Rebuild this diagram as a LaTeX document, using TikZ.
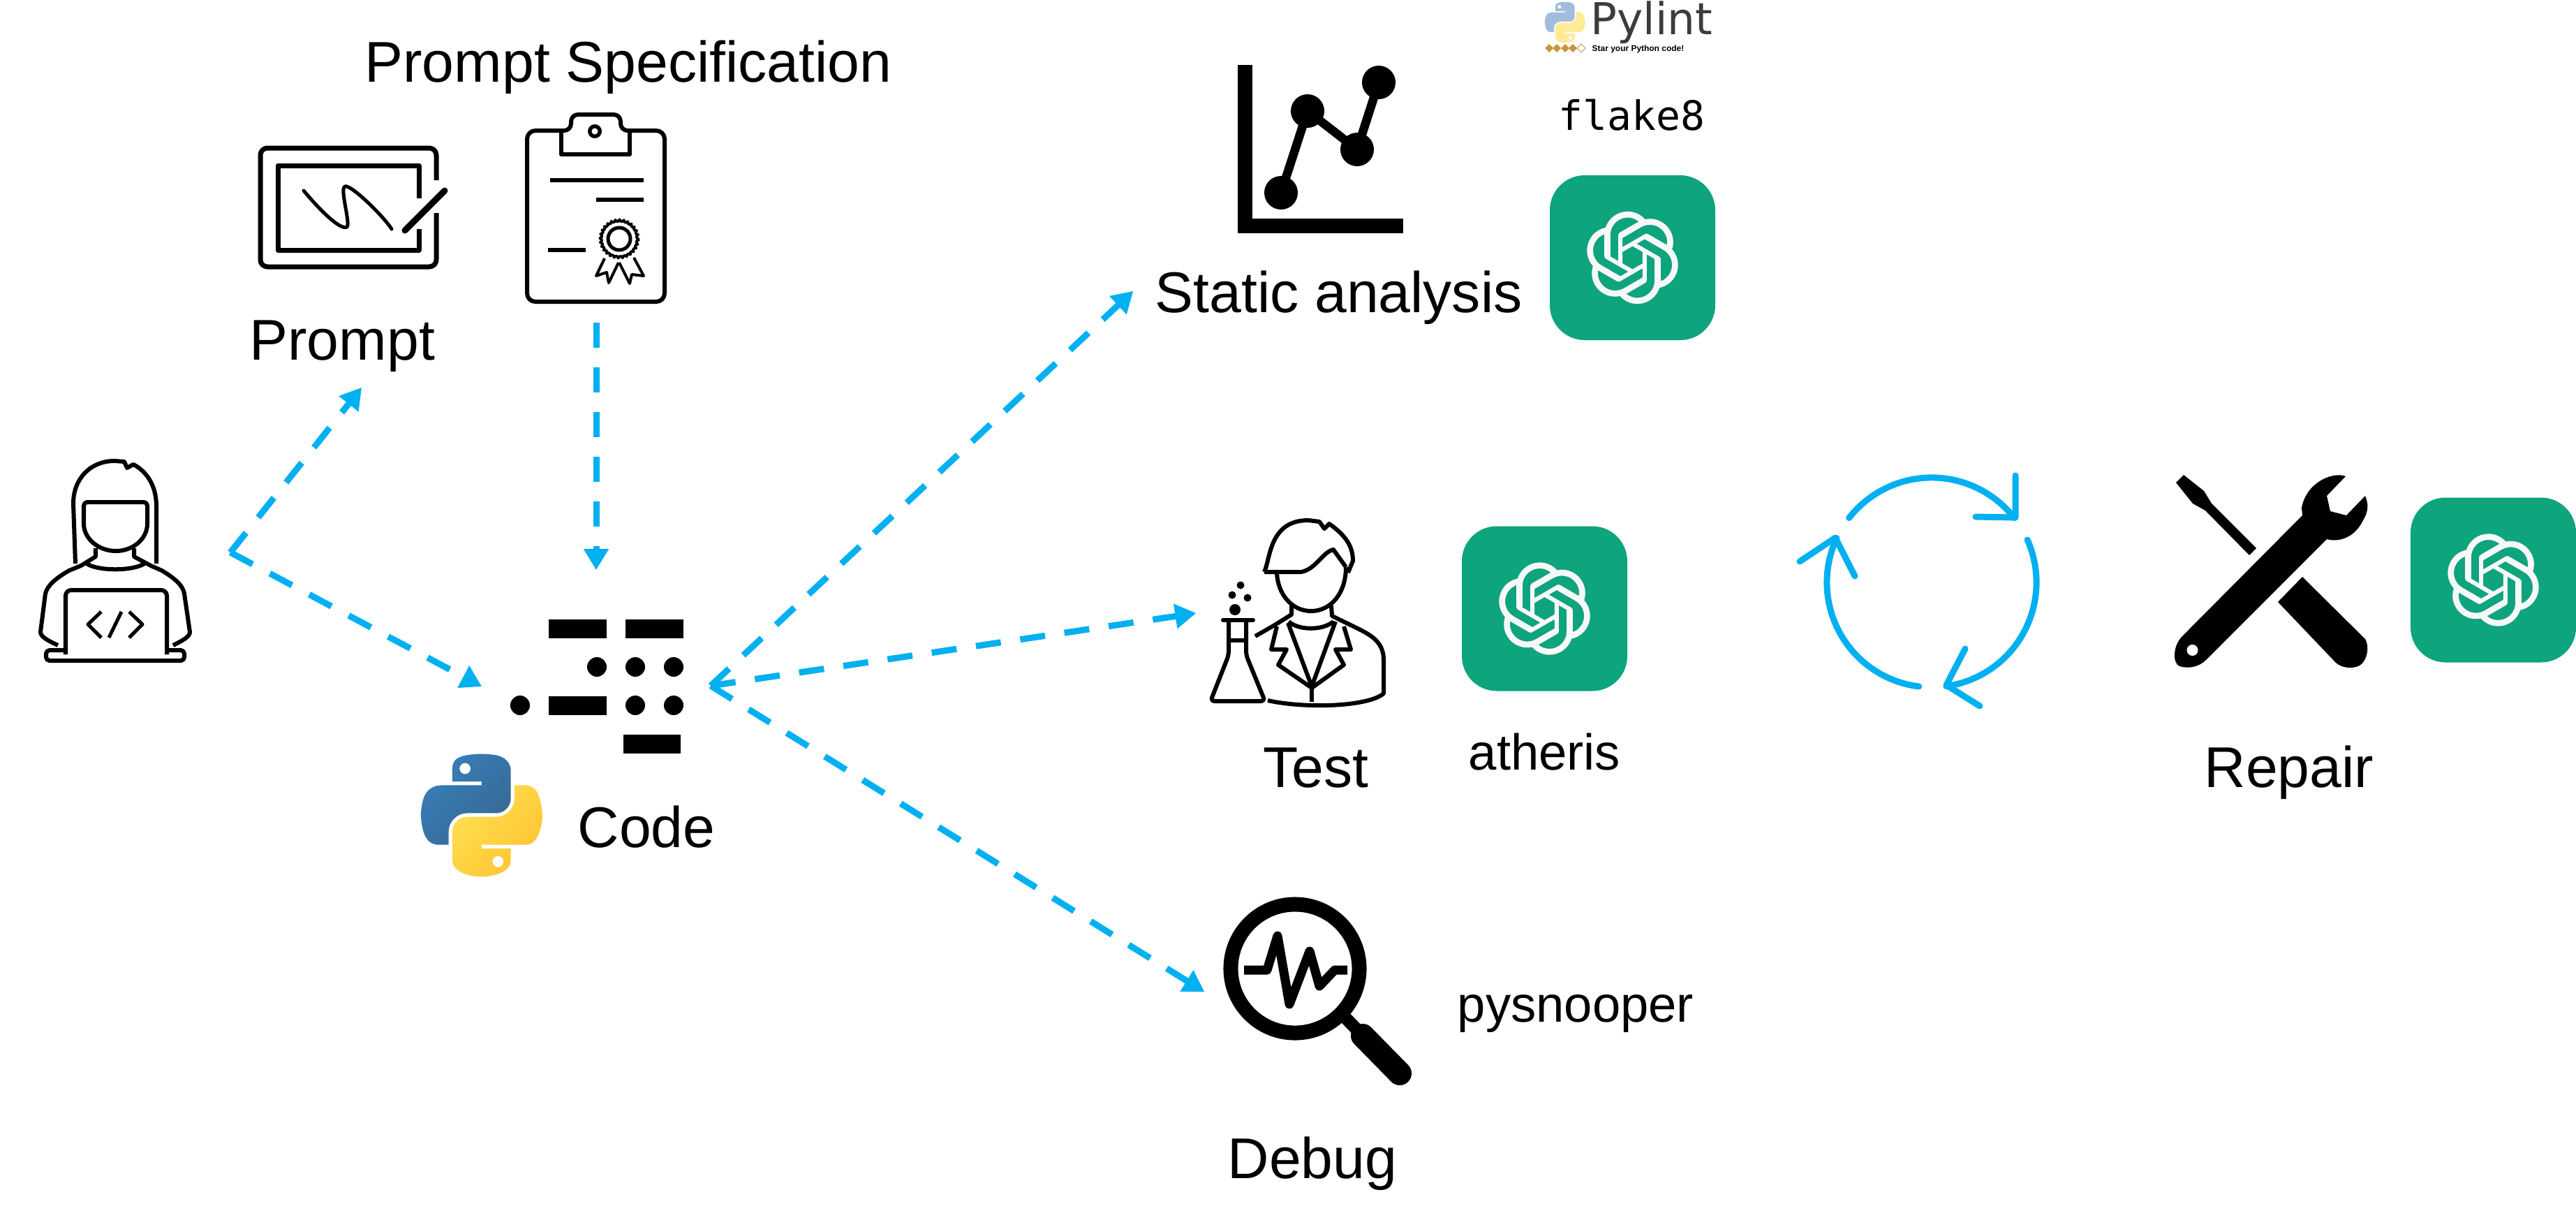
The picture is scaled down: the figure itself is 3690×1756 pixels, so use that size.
\documentclass[tikz,border=0pt]{standalone}
\usepackage{fontspec}
\setmainfont{Liberation Sans}
\newfontfamily\flakefont{DejaVu Sans Mono}
\newfontfamily\pylintfont{DejaVu Sans}
\usetikzlibrary{calc,positioning,arrows.meta,svg.path,decorations.pathmorphing}
\definecolor{flowblue}{HTML}{00B0F0}
\definecolor{gptgreen}{HTML}{0EA47D}
\definecolor{gptwhite}{HTML}{F8F8F8}
\definecolor{pyblueA}{HTML}{387EB8}
\definecolor{pyblueB}{HTML}{366994}
\definecolor{pyyellowA}{HTML}{FFE052}
\definecolor{pyyellowB}{HTML}{FFC331}
\definecolor{lintblue}{HTML}{A0BEDC}
\definecolor{lintyellow}{HTML}{FFEB96}
\definecolor{lintgold}{HTML}{C8963C}
\definecolor{lintgray}{HTML}{3C3C3C}
\tikzset{
	lbl/.style={inner sep=0pt, anchor=base west, font=\fontsize{23.4}{28}\selectfont},
	toollbl/.style={inner sep=0pt, anchor=base west, font=\fontsize{20.6}{24}\selectfont},
	dasharrow/.style={flowblue, line width=0.09cm, dash pattern=on 0.36cm off 0.28cm, -{Triangle[width=0.34cm,length=0.3cm]}},
	cycarrow/.style={flowblue, line width=0.09cm, line cap=round, line join=round},
	icon/.style={black, line width=0.06cm, line join=round},
	pics/gptbadge/.style={code={
		\fill[gptgreen, rounded corners=0.5cm] (-118.5,-118) rectangle (118.5,118);
		\begin{scope}[scale=0.94, yscale=-1, shift={(-20.4pt,-20.5pt)}]
		\fill[gptwhite] svg {M37.5324 16.8707 C37.9808 15.5241 38.1363 14.0974 37.9886 12.6859 C37.8409 11.2744 37.3934 9.91076 36.676 8.68622 C35.6126 6.83404 33.9882 5.3676 32.0373 4.4985 C30.0864 3.62941 27.9098 3.40259 25.8215 3.85078 C24.8796 2.7893 23.7219 1.94125 22.4257 1.36341 C21.1295 0.785575 19.7249 0.491269 18.3058 0.500197 C16.1708 0.495044 14.0893 1.16803 12.3614 2.42214 C10.6335 3.67624 9.34853 5.44666 8.6917 7.47815 C7.30085 7.76286 5.98686 8.3414 4.8377 9.17505 C3.68854 10.0087 2.73073 11.0782 2.02839 12.312 C0.956464 14.1591 0.498905 16.2988 0.721698 18.4228 C0.944492 20.5467 1.83612 22.5449 3.268 24.1293 C2.81966 25.4759 2.66413 26.9026 2.81182 28.3141 C2.95951 29.7256 3.40701 31.0892 4.12437 32.3138 C5.18791 34.1659 6.8123 35.6322 8.76321 36.5013 C10.7141 37.3704 12.8907 37.5973 14.9789 37.1492 C15.9208 38.2107 17.0786 39.0587 18.3747 39.6366 C19.6709 40.2144 21.0755 40.5087 22.4946 40.4998 C24.6307 40.5054 26.7133 39.8321 28.4418 38.5772 C30.1704 37.3223 31.4556 35.5506 32.1119 33.5179 C33.5027 33.2332 34.8167 32.6547 35.9659 31.821 C37.115 30.9874 38.0728 29.9178 38.7752 28.684 C39.8458 26.8371 40.3023 24.6979 40.0789 22.5748 C39.8556 20.4517 38.9639 18.4544 37.5324 16.8707 Z M22.4978 37.8849 C20.7443 37.8874 19.0459 37.2733 17.6994 36.1501 C17.7601 36.117 17.8666 36.0586 17.936 36.0161 L25.9004 31.4156 C26.1003 31.3019 26.2663 31.137 26.3813 30.9378 C26.4964 30.7386 26.5563 30.5124 26.5549 30.2825 V19.0542 L29.9213 20.998 C29.9389 21.0068 29.9541 21.0198 29.9656 21.0359 C29.977 21.052 29.9842 21.0707 29.9867 21.0902 V30.3889 C29.9842 32.375 29.1946 34.2791 27.7909 35.6841 C26.3872 37.0892 24.4838 37.8806 22.4978 37.8849 Z M6.39227 31.0064 C5.51397 29.4888 5.19742 27.7107 5.49804 25.9832 C5.55718 26.0187 5.66048 26.0818 5.73461 26.1244 L13.699 30.7248 C13.8975 30.8408 14.1233 30.902 14.3532 30.902 C14.583 30.902 14.8088 30.8408 15.0073 30.7248 L24.731 25.1103 V28.9979 C24.7321 29.0177 24.7283 29.0376 24.7199 29.0556 C24.7115 29.0736 24.6988 29.0893 24.6829 29.1012 L16.6317 33.7497 C14.9096 34.7416 12.8643 35.0097 10.9447 34.4954 C9.02506 33.9811 7.38785 32.7263 6.39227 31.0064 Z M4.29707 13.6194 C5.17156 12.0998 6.55279 10.9364 8.19885 10.3327 C8.19885 10.4013 8.19491 10.5228 8.19491 10.6071 V19.808 C8.19351 20.0378 8.25334 20.2638 8.36823 20.4629 C8.48312 20.6619 8.64893 20.8267 8.84863 20.9404 L18.5723 26.5542 L15.206 28.4979 C15.1894 28.5089 15.1703 28.5155 15.1505 28.5173 C15.1307 28.5191 15.1107 28.516 15.0924 28.5082 L7.04046 23.8557 C5.32135 22.8601 4.06716 21.2235 3.55289 19.3046 C3.03862 17.3858 3.30624 15.3413 4.29707 13.6194 Z M31.955 20.0556 L22.2312 14.4411 L25.5976 12.4981 C25.6142 12.4872 25.6333 12.4805 25.6531 12.4787 C25.6729 12.4769 25.6928 12.4801 25.7111 12.4879 L33.7631 17.1364 C34.9967 17.849 36.0017 18.8982 36.6606 20.1613 C37.3194 21.4244 37.6047 22.849 37.4832 24.2684 C37.3617 25.6878 36.8382 27.0432 35.9743 28.1759 C35.1103 29.3086 33.9415 30.1717 32.6047 30.6641 C32.6047 30.5947 32.6047 30.4733 32.6047 30.3889 V21.188 C32.6066 20.9586 32.5474 20.7328 32.4332 20.5338 C32.319 20.3348 32.154 20.1698 31.955 20.0556 Z M35.3055 15.0128 C35.2464 14.9765 35.1431 14.9142 35.069 14.8717 L27.1045 10.2712 C26.906 10.1554 26.6803 10.0943 26.4504 10.0943 C26.2206 10.0943 25.9948 10.1554 25.7963 10.2712 L16.0726 15.8858 V11.9982 C16.0715 11.9783 16.0753 11.9585 16.0837 11.9405 C16.0921 11.9225 16.1048 11.9068 16.1207 11.8949 L24.1719 7.25025 C25.4053 6.53903 26.8158 6.19376 28.2383 6.25482 C29.6608 6.31589 31.0364 6.78077 32.2044 7.59508 C33.3723 8.40939 34.2842 9.53945 34.8334 10.8531 C35.3826 12.1667 35.5464 13.6095 35.3055 15.0128 Z M14.2424 21.9419 L10.8752 19.9981 C10.8576 19.9893 10.8423 19.9763 10.8309 19.9602 C10.8195 19.9441 10.8122 19.9254 10.8098 19.9058 V10.6071 C10.8107 9.18295 11.2173 7.78848 11.9819 6.58696 C12.7466 5.38544 13.8377 4.42659 15.1275 3.82264 C16.4173 3.21869 17.8524 2.99464 19.2649 3.1767 C20.6775 3.35876 22.0089 3.93941 23.1034 4.85067 C23.0427 4.88379 22.937 4.94215 22.8668 4.98473 L14.9024 9.58517 C14.7025 9.69878 14.5366 9.86356 14.4215 10.0626 C14.3065 10.2616 14.2466 10.4877 14.2479 10.7175 L14.2424 21.9419 Z M16.071 17.9991 L20.4018 15.4978 L24.7325 17.9975 V22.9985 L20.4018 25.4983 L16.071 22.9985 V17.9991 Z};
		\end{scope}
	}},
	pics/pylogo/.style n args={4}{code={
		\begin{scope}[yscale=-1, shift={(-55pt,-55.2pt)}]
		\shade[top color=#1, bottom color=#2, shading angle=45, even odd rule] svg {M 54.918785 0.001 C 50.335132 0.02221727 45.957846 0.41313697 42.106285 1.0946693 C 30.760069 3.0991731 28.700036 7.2947714 28.700035 15.032169 V 25.250919 H 55.512535 V 28.657169 H 28.700035 H 18.637535 C 10.845076 28.657169 4.021776 33.340886 1.887535 42.250919 C -0.574285 52.463885 -0.68348 58.836942 1.887535 69.500919 C 3.793463 77.438771 8.345078 83.094667 16.137535 83.094669 H 25.356285 V 70.844669 C 25.356285 61.994767 33.013429 54.188421 42.106285 54.188419 H 68.887535 C 76.342486 54.188419 82.293788 48.050255 82.293785 40.563419 V 15.032169 C 82.293785 7.76583 76.163805 2.307392 68.887535 1.094669 C 64.281548 0.327944 59.502438 -0.02037903 54.918785 0.001 Z M 40.418785 8.220669 C 43.188332 8.220669 45.450035 10.519315 45.450035 13.345669 C 45.450035 16.162005 43.188332 18.439419 40.418785 18.439419 C 37.639309 18.439419 35.387535 16.162004 35.387535 13.345669 C 35.387535 10.519316 37.639309 8.220669 40.418785 8.220669 Z};
		\shade[top color=#3, bottom color=#4, shading angle=45, even odd rule] svg {M 85.637535 28.657169 V 40.563419 C 85.637535 49.794174 77.81164 57.563418 68.887535 57.563419 H 42.106285 C 34.770452 57.563419 28.700036 63.841902 28.700035 71.188419 V 96.719666 C 28.700035 103.98601 35.018623 108.25999 42.106285 110.34467 C 50.593616 112.84028 58.732522 113.2913 68.887535 110.34467 C 75.63769 108.39028 82.293788 104.45706 82.293785 96.719666 V 86.500919 H 55.512535 V 83.094669 H 82.293785 H 95.700039 C 103.4925 83.094669 106.39629 77.659261 109.10628 69.500919 C 111.90561 61.102033 111.7865 53.025143 109.10628 42.250919 C 107.1805 34.493478 103.50241 28.657169 95.700039 28.657169 Z M 70.575035 93.313419 C 73.354513 93.313422 75.606285 95.590836 75.606285 98.407166 C 75.606285 101.23352 73.35451 103.53217 70.575035 103.53217 C 67.805485 103.53217 65.543785 101.23352 65.543785 98.407166 C 65.543787 95.590836 67.805482 93.313419 70.575035 93.313419 Z};
		\end{scope}
	}}
}
\begin{document}
\begin{tikzpicture}[x=0.01cm, y=-0.01cm]
	\useasboundingbox (0,0) rectangle (3690,1756);

	\coordinate (fork) at (330,791);
	\coordinate[above right=2.36cm and 1.88cm of fork] (promptend);
	\coordinate[below right=1.92cm and 3.6cm of fork] (codein);
	\coordinate (specstart) at (854,462);
	\coordinate[below=3.54cm of specstart] (specend);
	\coordinate (codeout) at (1018,982);
	\coordinate[above right=5.65cm and 6.05cm of codeout] (staticend);
	\coordinate[above right=1.04cm and 6.95cm of codeout] (testend);
	\coordinate[below right=4.38cm and 7.07cm of codeout] (debugend);
	\coordinate (cycle) at (2767,834);

	\draw[dasharrow] (fork) -- (promptend);
	\draw[dasharrow] (fork) -- (codein);
	\draw[dasharrow] (specstart) -- (specend);
	\draw[dasharrow] (codeout) -- (staticend);
	\draw[dasharrow] (codeout) -- (testend);
	\draw[dasharrow] (codeout) -- (debugend);

	\node[lbl] (speclbl) at (522,117) {Prompt Specification};
	\node[lbl] (promptlbl) at (357,515) {Prompt};
	\node[lbl] (codelbl) at (827,1213) {Code};
	\node[lbl] (staticlbl) at (1654,447) {Static analysis};
	\node[lbl] (testlbl) at (1809,1127) {Test};
	\node[lbl] (debuglbl) at (1758,1687) {Debug};
	\node[lbl] (repairlbl) at (3157,1127) {Repair};
	\node[toollbl] (atherislbl) at (2103,1102) {atheris};
	\node[toollbl] (snooplbl) at (2087,1463) {pysnooper};
	\node[inner sep=0pt, anchor=base west, font=\flakefont\fontsize{16.5}{20}\selectfont] (flakelbl) at (2232,186) {flake8};
	\node[inner sep=0pt, anchor=base west, text=lintgray, font=\pylintfont\fontsize{17.9}{20}\selectfont] (pylintlbl) at (2278,49) {Pylint};
	\node[inner sep=0pt, anchor=base west, font=\bfseries\fontsize{3.4}{4}\selectfont] (starlbl) at (2280,73) {Star your Python code!};

	\pic (badgestatic) at (2338.5,369) {gptbadge};
	\pic (badgetest) at (2212.5,871.5) {gptbadge};
	\pic (badgerepair) at (3571.5,830.5) {gptbadge};
	\pic[scale=0.445] (pycode) at (689,1166) {pylogo={pyblueA}{pyblueB}{pyyellowA}{pyyellowB}};
	\pic[scale=0.148] (pylint) at (2241.5,31.5) {pylogo={lintblue}{lintblue}{lintyellow}{lintyellow}};

	\fill[lintgold] (2219,63) -- (2225,69) -- (2219,75) -- (2213,69) -- cycle;
	\fill[lintgold] (2230,63) -- (2236,69) -- (2230,75) -- (2224,69) -- cycle;
	\fill[lintgold] (2242,63) -- (2248,69) -- (2242,75) -- (2236,69) -- cycle;
	\fill[lintgold] (2253,63) -- (2259,69) -- (2253,75) -- (2247,69) -- cycle;
	\draw[lintgold, line width=0.01cm] (2265,63) -- (2271,69) -- (2265,75) -- (2259,69) -- cycle;

	\draw[icon] (108,807) -- (105,721) .. controls (105,685) and (130,660) .. (164,660) -- (178,661) -- (182,670) -- (191,665) .. controls (210,675) and (224,695) .. (224,725) -- (224,807);
	\draw[icon, rounded corners=0.05cm] (120,750) -- (120,719) -- (211,719) -- (211,750);
	\draw[icon] (120,750) .. controls (120,772) and (142,789) .. (166,789) .. controls (190,789) and (211,772) .. (211,750);
	\draw[icon] (137,785) -- (137,797) -- (116,810) -- (99,817) .. controls (80,828) and (68,838) .. (65,850) -- (58,905) .. controls (58,912) and (70,918) .. (83,924);
	\draw[icon] (192,785) -- (192,797) -- (216,810) -- (232,817) .. controls (250,828) and (262,838) .. (264,850) -- (272,905) .. controls (272,912) and (260,918) .. (248,924);
	\draw[icon] (124,807) .. controls (140,818) and (190,818) .. (207,807);
	\draw[icon, rounded corners=0.08cm] (94,937) -- (94,845) -- (239,845) -- (239,937);
	\draw[icon, rounded corners=0.05cm] (94,931) -- (66,931) -- (66,946) -- (264,946) -- (264,931) -- (239,931);
	\draw[icon, line width=0.05cm] (145,876) -- (126,894) -- (145,913);
	\draw[icon, line width=0.05cm] (174,876) -- (156,913);
	\draw[icon, line width=0.05cm] (185,876) -- (204,894) -- (185,913);

	\draw[icon, line width=0.07cm, rounded corners=0.1cm] (625,258) -- (625,212) -- (373,212) -- (373,382) -- (625,382) -- (625,305);
	\draw[icon, line width=0.07cm] (600,284) -- (600,237) -- (398,237) -- (398,358) -- (600,358) -- (600,328);
	\draw[icon, line width=0.09cm, line cap=round] (637,273) -- (580,330);
	\draw[icon, line width=0.05cm, line cap=round] (435,273) .. controls (460,303) and (488,330) .. (497,325) .. controls (502,320) and (488,275) .. (493,268) .. controls (497,258) and (550,310) .. (561,328);

	\draw[icon, rounded corners=0.12cm] (804,187) -- (755,187) -- (755,432) -- (952,432) -- (952,187) -- (902,187);
	\draw[icon, rounded corners=0.1cm] (804,187) -- (818,187) -- (818,164) -- (889,164) -- (889,187) -- (902,187);
	\draw[icon] (804,187) -- (804,221) -- (902,221) -- (902,187);
	\fill (852,188) circle (0.1cm);
	\fill[white] (852,188) circle (0.045cm);
	\draw[icon] (788,258) -- (922,258);
	\draw[icon] (854,286) -- (922,286);
	\draw[icon] (785,358) -- (839,358);
	\draw[icon, line width=0.04cm, decorate, decoration={bumps,segment length=0.12cm,amplitude=0.02cm}] (887,342) circle (0.27cm);
	\draw[icon, line width=0.05cm] (887,342) circle (0.16cm);
	\draw[icon, line width=0.04cm] (866,370) -- (854,395) -- (869,390) -- (872,405) -- (886,376);
	\draw[icon, line width=0.04cm] (887,376) -- (902,406) -- (905,393) -- (922,395) -- (908,369);

	\fill (786,887) rectangle (869,914);
	\fill (896,887) rectangle (979,914);
	\fill (855,955) circle (0.14cm);
	\fill (910,955) circle (0.14cm);
	\fill (965,955) circle (0.14cm);
	\fill (745,1010) circle (0.14cm);
	\fill (786,997) rectangle (869,1024);
	\fill (910,1010) circle (0.14cm);
	\fill (965,1010) circle (0.14cm);
	\fill (893,1052) rectangle (975,1079);

	\fill (1773,93) rectangle (1794,334);
	\fill (1773,313) rectangle (2010,334);
	\draw[black, line width=0.125cm] (1835,276) -- (1873,159) -- (1944,214) -- (1975,118);
	\fill (1835,276) circle (0.24cm);
	\fill (1873,159) circle (0.24cm);
	\fill (1944,214) circle (0.24cm);
	\fill (1975,118) circle (0.24cm);

	\draw[icon] (1811,819) .. controls (1820,800) and (1818,745) .. (1874,745) -- (1890,747) -- (1897,757) -- (1904,750) .. controls (1925,765) and (1938,780) .. (1938,803) -- (1931,820);
	\draw[icon] (1811,819) -- (1864,819) .. controls (1885,815) and (1895,790) .. (1910,787) -- (1928,812);
	\draw[icon] (1829,820) .. controls (1830,850) and (1850,875) .. (1878,875) .. controls (1906,875) and (1928,850) .. (1928,812);
	\draw[icon] (1850,867) -- (1850,880) -- (1826,895) -- (1798,911);
	\draw[icon] (1907,867) -- (1908,882) -- (1945,900) .. controls (1965,910) and (1982,920) .. (1982,945) -- (1982,993) .. controls (1960,1012) and (1870,1015) .. (1816,1003);
	\draw[icon] (1846,890) .. controls (1860,903) and (1895,903) .. (1910,890);
	\draw[icon] (1845,892) -- (1879,983) -- (1913,890);
	\draw[icon] (1829,897) -- (1821,930) -- (1843,930) -- (1831,952) -- (1879,985) -- (1925,952) -- (1913,930) -- (1935,930) -- (1925,897);
	\draw[icon] (1879,985) -- (1879,1005);
	\draw[icon, line cap=round] (1752,888) -- (1795,888);
	\draw[icon, rounded corners=0.06cm] (1760,890) -- (1760,938) -- (1734,1004) -- (1812,1004) -- (1785,938) -- (1785,890);
	\draw[icon] (1760,917) -- (1785,917);
	\fill (1769,873) circle (0.08cm);
	\fill (1765,852) circle (0.055cm);
	\fill (1787,856) circle (0.055cm);
	\fill (1777,838) circle (0.055cm);

	\draw[black, line width=0.21cm] (1855,1387) circle (0.92cm);
	\draw[black, line width=0.13cm, line join=round] (1782,1389) -- (1815,1389) -- (1830,1340) -- (1847,1438) -- (1876,1362) -- (1890,1412) -- (1912,1389) -- (1930,1389);
	\draw[black, line width=0.18cm] (1925,1455) -- (1955,1486);
	\draw[black, line width=0.34cm, line cap=round] (1952,1483) -- (2005,1537);

	\draw[cycarrow] ($(cycle)+(142:1.5cm)$) arc[start angle=142, end angle=38, radius=1.5cm];
	\draw[cycarrow] (2887,681) -- (2887,741) -- (2830,740);
	\draw[cycarrow] ($(cycle)+(24:1.5cm)$) arc[start angle=24, end angle=-82, radius=1.5cm];
	\draw[cycarrow] (2815,929) -- (2788,981) -- (2836,1011);
	\draw[cycarrow] ($(cycle)+(263:1.5cm)$) arc[start angle=263, end angle=155, radius=1.5cm];
	\draw[cycarrow] (2578,804) -- (2629,770) -- (2657,825);

	\fill (3360,682) .. controls (3342,675) and (3304,690) .. (3297,727) -- (3298,738) -- (3126,911) .. controls (3112,925) and (3112,950) .. (3122,954) .. controls (3135,958) and (3150,955) .. (3160,945) -- (3333,772) .. controls (3350,777) and (3373,770) .. (3385,745) .. controls (3394,730) and (3392,720) .. (3388,710) -- (3361,738) -- (3338,732) -- (3333,710) -- cycle;
	\fill[white] (3140.5,931) circle (0.08cm);
	\fill (3128,680) -- (3117,691) -- (3141,721) -- (3159,731) -- (3222,795) -- (3232,785) -- (3168,721) -- (3157,703) -- cycle;
	\fill (3298,826) -- (3263,862) -- (3346,949) .. controls (3355,957) and (3370,958) .. (3380,953) .. controls (3392,945) and (3394,925) .. (3388,915) -- cycle;
\end{tikzpicture}
\end{document}
